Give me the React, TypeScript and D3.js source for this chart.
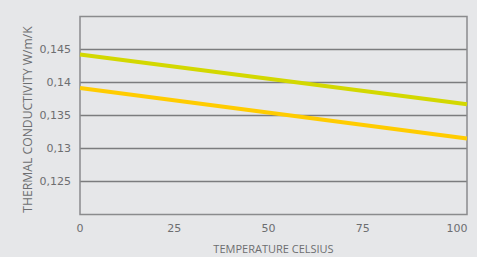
import React from "react";
import * as d3 from "d3";

const temps = [0, 100];
const greenSeries = [0.14424, 0.1367];
const yellowSeries = [0.13917, 0.1315];
const yTicks = [0.125, 0.13, 0.135, 0.14, 0.145];
const yTickLabels = ["0,125", "0,13", "0,135", "0,14", "0,145"];
const xTicks = [0, 25, 50, 75, 100];

const W = 477;
const H = 257;
const margin = { left: 80, right: 10, top: 16.5, bottom: 42.5 };

const App = () => {
  const svgRef = React.useRef<SVGSVGElement>(null);

  React.useEffect(() => {
    const width = W - margin.left - margin.right;
    const height = H - margin.top - margin.bottom;
    const xScale = d3.scaleLinear().domain([0, 100]).range([0, width]);
    // tick labels in the original sit slightly left of the true positions
    const xLabel = d3.scaleLinear().domain([0, 100]).range([0, width - 10]);
    const yScale = d3.scaleLinear().domain([0.12, 0.15]).range([height, 0]);

    const svgEl = d3.select(svgRef.current);
    svgEl.selectAll("*").remove();
    svgEl.append("rect").attr("width", W).attr("height", H).attr("fill", "#e6e7e9");

    const svg = svgEl.append("g").attr("transform", `translate(${margin.left},${margin.top})`);

    // grid lines
    svg.selectAll(".grid")
      .data(yTicks)
      .enter()
      .append("line")
      .attr("x1", 0)
      .attr("x2", width)
      .attr("y1", (d) => yScale(d))
      .attr("y2", (d) => yScale(d))
      .attr("stroke", "#7b7c7e")
      .attr("stroke-width", 1.3);

    // frame
    svg.append("rect")
      .attr("x", 0)
      .attr("y", 0)
      .attr("width", width)
      .attr("height", height)
      .attr("fill", "none")
      .attr("stroke", "#8a8b8d")
      .attr("stroke-width", 1.5);

    const font = "'Open Sans', sans-serif";
    const tickFont = "'DejaVu Sans', sans-serif";

    svg.selectAll(".ylab")
      .data(yTicks)
      .enter()
      .append("text")
      .attr("x", -9)
      .attr("y", (d) => yScale(d))
      .attr("dy", "0.35em")
      .attr("text-anchor", "end")
      .attr("font-family", tickFont)
      .attr("font-size", 11)
      .attr("fill", "#6d6e70")
      .text((d, i) => yTickLabels[i]);

    svg.selectAll(".xlab")
      .data(xTicks)
      .enter()
      .append("text")
      .attr("x", (d) => xLabel(d))
      .attr("y", height + 17.5)
      .attr("text-anchor", "middle")
      .attr("font-family", tickFont)
      .attr("font-size", 11)
      .attr("fill", "#6d6e70")
      .text((d) => `${d}`);

    svg.append("text")
      .attr("x", width / 2)
      .attr("y", height + 38.5)
      .attr("text-anchor", "middle")
      .attr("font-family", font)
      .attr("font-size", 11)
      .attr("fill", "#6d6e70")
      .text("TEMPERATURE CELSIUS");

    svg.append("text")
      .attr("transform", `translate(${-48},${height / 2 + 4}) rotate(-90)`)
      .attr("text-anchor", "middle")
      .attr("font-family", font)
      .attr("font-size", 12.2)
      .attr("fill", "#6d6e70")
      .text("THERMAL CONDUCTIVITY W/m/K");

    const line = d3.line<number>()
      .x((d, i) => xScale(temps[i]))
      .y((d) => yScale(d));

    const series = [
      { values: greenSeries, color: "#d3d800" },
      { values: yellowSeries, color: "#ffcc00" },
    ];
    svg.selectAll(".line")
      .data(series)
      .enter()
      .append("path")
      .attr("fill", "none")
      .attr("stroke", (d) => d.color)
      .attr("stroke-width", 4)
      .attr("d", (d) => line(d.values));
  }, []);

  return <svg ref={svgRef} width={W} height={H} style={{ position: "absolute", left: 0, top: 0 }} />;
};

export default App;
